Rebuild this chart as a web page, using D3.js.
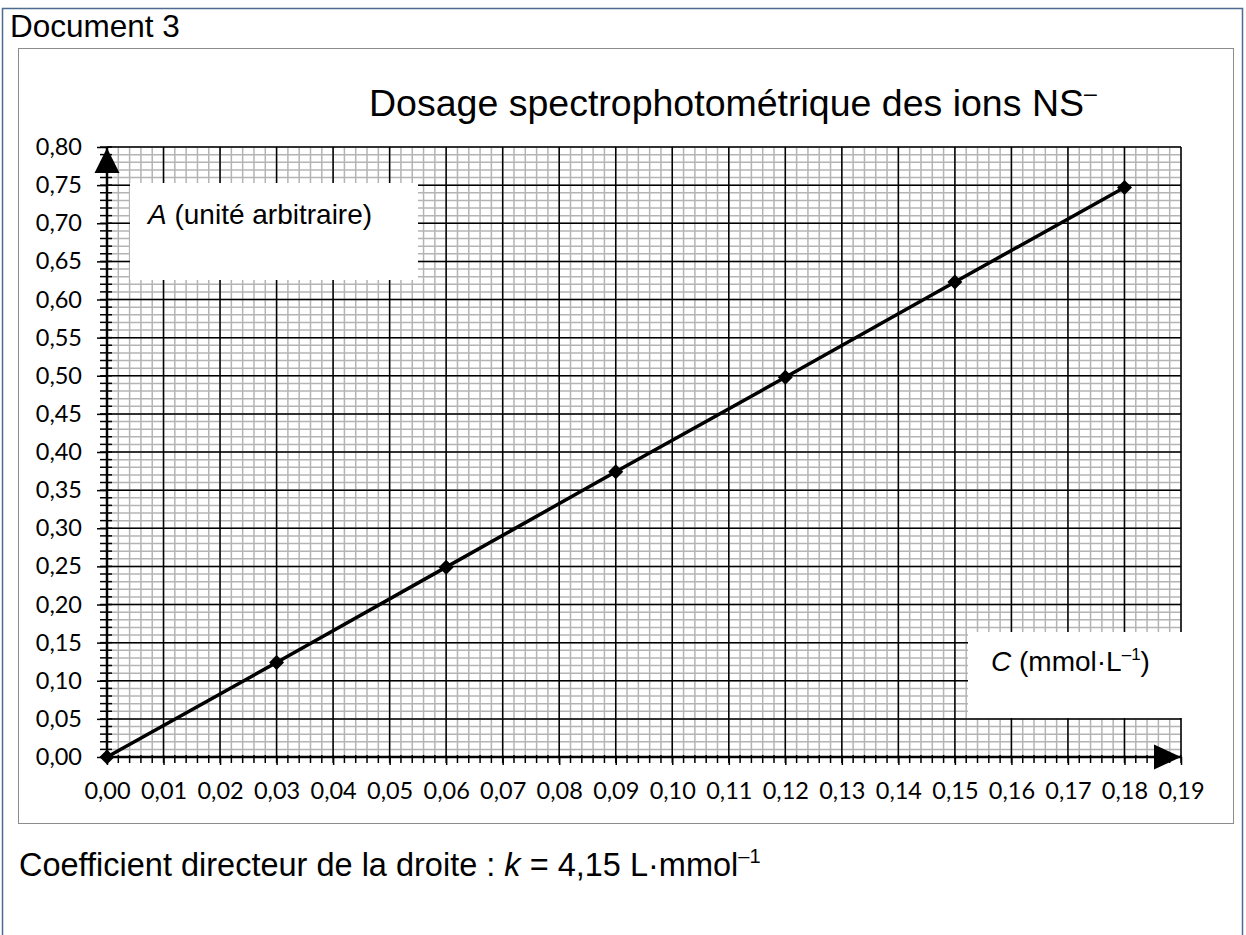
<!DOCTYPE html>
<html lang="fr">

<head>
    <meta charset="UTF-8">
    <title>Document 3 - Dosage spectrophotométrique</title>
    <script src="https://d3js.org/d3.v7.min.js"></script>
    <style>
        body {
            margin: 0;
            padding: 0;
            background: #ffffff;
            overflow: hidden;
        }

        text {
            font-family: "Liberation Sans", Arial, sans-serif;
            fill: #000;
        }

        .tick text {
            font-family: Lato, "Open Sans", sans-serif;
            font-size: 23.5px;
        }
    </style>
</head>

<body>
    <svg id="vis"></svg>
    <script>
        const width = 1246;
        const height = 935;

        // measured points (C in mmol/L, A without unit)
        const concentrations = [0, 0.03, 0.06, 0.09, 0.12, 0.15, 0.18];
        const absorbances = [0, 0.124, 0.249, 0.374, 0.498, 0.623, 0.747];
        const slopeK = 4.15;

        const xTickValues = [0, 0.01, 0.02, 0.03, 0.04, 0.05, 0.06, 0.07, 0.08, 0.09,
            0.10, 0.11, 0.12, 0.13, 0.14, 0.15, 0.16, 0.17, 0.18, 0.19];
        const yTickValues = [0, 0.05, 0.10, 0.15, 0.20, 0.25, 0.30, 0.35, 0.40,
            0.45, 0.50, 0.55, 0.60, 0.65, 0.70, 0.75, 0.80];

        const locale = d3.formatLocale({ decimal: ",", thousands: " ", grouping: [3], currency: ["", " €"] });
        const fmt = locale.format(".2f");

        const svg = d3.select("#vis")
            .attr("width", width)
            .attr("height", height);

        // page frames
        svg.append("rect")
            .attr("x", 2.5).attr("y", 8.5)
            .attr("width", 1240).attr("height", 960)
            .attr("fill", "none")
            .attr("stroke", "#4d6a8f")
            .attr("stroke-width", 1.5);

        svg.append("text")
            .attr("x", 10).attr("y", 37)
            .style("font-size", "31.5px")
            .text("Document 3");

        svg.append("rect")
            .attr("x", 18.5).attr("y", 48.5)
            .attr("width", 1215).attr("height", 775)
            .attr("fill", "#fff")
            .attr("stroke", "#8c8c8c")
            .attr("stroke-width", 1);

        const x = d3.scaleLinear().domain([0, 0.19]).range([107, 1181]);
        const y = d3.scaleLinear().domain([0, 0.80]).range([757, 147]);

        // millimetre paper
        const grid = svg.append("g");
        const xMinor = d3.range(0, 96).map(i => i * 0.002);
        const yMinor = d3.range(0, 81).map(i => i * 0.01);

        grid.selectAll(".vmin").data(xMinor).join("line")
            .attr("x1", d => x(d)).attr("x2", d => x(d))
            .attr("y1", y(0)).attr("y2", y(0.8))
            .attr("stroke", "#b4b4b4").attr("stroke-width", 1.5);
        grid.selectAll(".hmin").data(yMinor).join("line")
            .attr("class", "hmin")
            .attr("x1", x(0)).attr("x2", x(0.19))
            .attr("y1", d => y(d)).attr("y2", d => y(d))
            .attr("stroke", "#b4b4b4").attr("stroke-width", 1.5);

        grid.selectAll(".vmaj").data(xTickValues).join("line")
            .attr("class", "vmaj")
            .attr("x1", d => x(d)).attr("x2", d => x(d))
            .attr("y1", y(0)).attr("y2", y(0.8))
            .attr("stroke", "#000").attr("stroke-width", 1.5);
        grid.selectAll(".hmaj").data(yTickValues).join("line")
            .attr("class", "hmaj")
            .attr("x1", x(0)).attr("x2", x(0.19))
            .attr("y1", d => y(d)).attr("y2", d => y(d))
            .attr("stroke", "#000").attr("stroke-width", 1.5);

        // white label boxes over the grid
        svg.append("rect")
            .attr("x", 130).attr("y", 183)
            .attr("width", 288).attr("height", 97)
            .attr("fill", "#fff");
        svg.append("rect")
            .attr("x", 968).attr("y", 632)
            .attr("width", 214).attr("height", 86)
            .attr("fill", "#fff");

        const aLabel = svg.append("text")
            .attr("x", 148).attr("y", 224)
            .style("font-size", "28px");
        aLabel.append("tspan").style("font-style", "italic").text("A");
        aLabel.append("tspan").text(" (unité arbitraire)");

        const cLabel = svg.append("text")
            .attr("x", 991).attr("y", 671)
            .style("font-size", "28px");
        cLabel.append("tspan").style("font-style", "italic").text("C");
        cLabel.append("tspan").text(" (mmol·L");
        cLabel.append("tspan").attr("dy", -11).style("font-size", "17px").text("–1");
        cLabel.append("tspan").attr("dy", 11).text(")");

        // axes
        const yAxis = svg.append("g")
            .attr("transform", `translate(${x(0)},0)`)
            .call(d3.axisLeft(y).tickValues(yTickValues).tickFormat(fmt)
                .tickSize(10).tickPadding(15));
        yAxis.select(".domain").remove();
        yAxis.selectAll(".tick line").attr("stroke-width", 1.5);

        const xAxis = svg.append("g")
            .attr("transform", `translate(0,${y(0)})`)
            .call(d3.axisBottom(x).tickValues(xTickValues).tickFormat(fmt)
                .tickSize(8).tickPadding(17));
        xAxis.select(".domain").remove();
        xAxis.selectAll(".tick line").attr("stroke-width", 1.5);

        // minor ticks across the axes
        svg.append("g").selectAll("line").data(yMinor).join("line")
            .attr("x1", x(0) - 7).attr("x2", x(0) + 5)
            .attr("y1", d => y(d)).attr("y2", d => y(d))
            .attr("stroke", "#000").attr("stroke-width", 1.5);
        svg.append("g").selectAll("line").data(xMinor).join("line")
            .attr("x1", d => x(d)).attr("x2", d => x(d))
            .attr("y1", y(0) - 2).attr("y2", y(0) + 6)
            .attr("stroke", "#000").attr("stroke-width", 1.5);

        svg.append("line")
            .attr("x1", x(0)).attr("x2", x(0.19))
            .attr("y1", y(0)).attr("y2", y(0))
            .attr("stroke", "#000").attr("stroke-width", 2.5);
        svg.append("line")
            .attr("x1", x(0)).attr("x2", x(0))
            .attr("y1", y(0)).attr("y2", y(0.8))
            .attr("stroke", "#000").attr("stroke-width", 2.5);

        // arrow heads
        const yTop = y(0.8), xEnd = x(0.19), x0 = x(0), y0 = y(0);
        svg.append("path")
            .attr("d", `M${x0},${yTop + 1}L${x0 - 12.5},${yTop + 26}L${x0 + 12.5},${yTop + 26}Z`)
            .attr("fill", "#000");
        svg.append("path")
            .attr("d", `M${xEnd},${y0}L${xEnd - 27},${y0 - 12.5}L${xEnd - 27},${y0 + 12.5}Z`)
            .attr("fill", "#000");

        // data line + markers
        const points = concentrations.map((c, i) => [c, absorbances[i]]);
        svg.append("path")
            .datum(points)
            .attr("d", d3.line().x(d => x(d[0])).y(d => y(d[1])))
            .attr("fill", "none")
            .attr("stroke", "#000")
            .attr("stroke-width", 3.5);
        svg.append("g").selectAll("path").data(points).join("path")
            .attr("transform", d => `translate(${x(d[0])},${y(d[1])})`)
            .attr("d", "M0,-7.5L7.5,0L0,7.5L-7.5,0Z")
            .attr("fill", "#000");

        // title
        const title = svg.append("text")
            .attr("x", 369).attr("y", 116)
            .style("font-size", "37.5px");
        title.append("tspan").text("Dosage spectrophotométrique des ions NS");
        title.append("tspan").attr("dy", -15).style("font-size", "23px").text("–");

        // note under the chart
        const note = svg.append("text")
            .attr("x", 19).attr("y", 876)
            .style("font-size", "32.5px");
        note.append("tspan").text("Coefficient directeur de la droite : ");
        note.append("tspan").style("font-style", "italic").text("k");
        note.append("tspan").text(" = " + locale.format(".2f")(slopeK) + " L·mmol");
        note.append("tspan").attr("dy", -13).style("font-size", "20px").text("–1");
    </script>
</body>

</html>
